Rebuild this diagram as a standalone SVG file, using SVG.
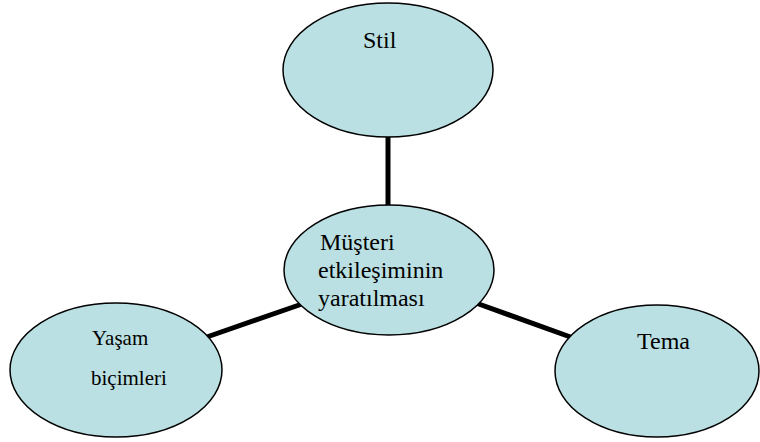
<svg xmlns="http://www.w3.org/2000/svg" width="760" height="442" viewBox="0 0 760 442">
  <style>
    .bubble { fill: #bbe0e3; stroke: #000; stroke-width: 1.5; }
    .link { stroke: #000; stroke-width: 5; fill: none; }
    .lbl { font-family: "Liberation Serif", "Times New Roman", serif; font-size: 24px; fill: #000; }
    .lbl-sm { font-family: "Liberation Serif", "Times New Roman", serif; font-size: 21px; fill: #000; }
  </style>
  <rect width="760" height="442" fill="#fff"/>

  <!-- spokes from the hub to the three themes -->
  <g id="connectors">
    <line class="link" x1="388" y1="134" x2="388" y2="208"/>
    <line class="link" x1="302" y1="304" x2="204" y2="338"/>
    <line class="link" x1="476" y1="303" x2="576" y2="339"/>
  </g>

  <g id="stil">
    <ellipse class="bubble" cx="388" cy="70" rx="105" ry="67"/>
    <text class="lbl" x="363" y="48">Stil</text>
  </g>

  <g id="hub">
    <ellipse class="bubble" cx="389" cy="270" rx="105" ry="65"/>
    <text class="lbl" x="320" y="250">Müşteri</text>
    <text class="lbl" x="318" y="278">etkileşiminin</text>
    <text class="lbl" x="318" y="306">yaratılması</text>
  </g>

  <g id="yasam">
    <ellipse class="bubble" cx="116" cy="370" rx="106" ry="67"/>
    <text class="lbl-sm" x="92" y="345">Yaşam</text>
    <text class="lbl-sm" x="91" y="385">biçimleri</text>
  </g>

  <g id="tema">
    <ellipse class="bubble" cx="657" cy="371" rx="102" ry="66"/>
    <text class="lbl" x="637" y="349">Tema</text>
  </g>
</svg>
